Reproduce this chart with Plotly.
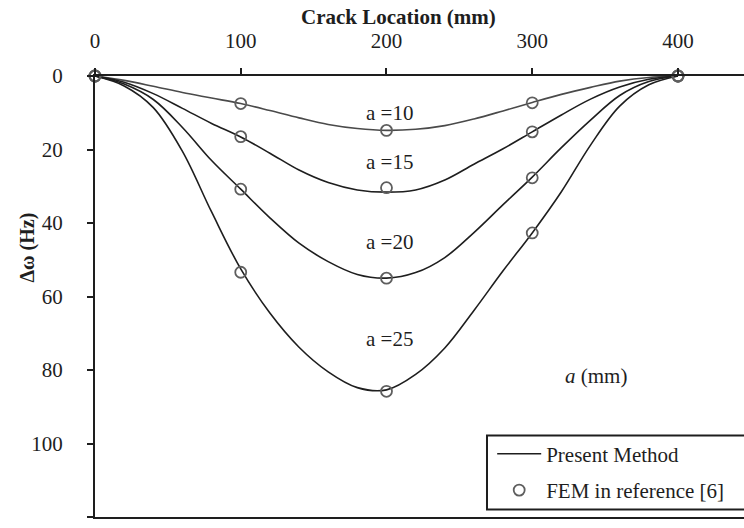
import plotly.graph_objects as go

# Crack location along the beam (mm) for the Present Method curves
crack_x = [0, 20, 40, 60, 80, 100, 120, 140, 160, 180, 200,
           220, 240, 260, 280, 300, 320, 340, 360, 380, 400]

# Frequency change (Hz) for each crack depth a (mm)
present_a10 = [0, 1.2, 2.8, 4.5, 6.0, 7.5, 9.4, 11.4, 13.2, 14.3, 14.8,
               14.5, 13.5, 11.7, 9.5, 7.2, 5.0, 3.1, 1.4, 0.4, 0]
present_a15 = [0, 1.7, 4.8, 8.8, 12.9, 16.6, 21.0, 25.6, 29.0, 31.0, 31.6,
               31.0, 28.3, 24.0, 19.8, 15.2, 10.6, 6.3, 3.0, 0.9, 0]
present_a20 = [0, 2.2, 6.4, 14.0, 23.0, 30.8, 38.6, 45.5, 50.5, 54.0, 55.0,
               53.5, 49.4, 42.6, 35.0, 27.5, 19.5, 12.0, 5.3, 1.5, 0]
present_a25 = [0, 2.7, 8.6, 20.5, 37.0, 52.5, 64.5, 73.8, 80.5, 84.8, 85.4,
               81.2, 74.0, 63.8, 53.0, 42.7, 31.5, 18.8, 8.2, 2.4, 0]

# FEM results from reference [6]
fem_x = [0, 100, 200, 300, 400]
fem_a10 = [0, 7.5, 14.8, 7.3, 0]
fem_a15 = [0, 16.5, 30.4, 15.2, 0]
fem_a20 = [0, 30.8, 55.0, 27.7, 0]
fem_a25 = [0, 53.4, 85.8, 42.7, 0]

depth_labels = ["a =10", "a =15", "a =20", "a =25"]
label_x = [202, 202, 202, 202]
label_y = [10.2, 23.3, 45.2, 71.5]

x_ticks = [0, 100, 200, 300, 400]
y_ticks = [0, 20, 40, 60, 80, 100, 120]

SERIF = "Liberation Serif"
INK = "#1e1e1e"

fig = go.Figure()

curves = [present_a10, present_a15, present_a20, present_a25]
curve_colors = ["#4a4a4a", INK, INK, INK]
for i, (ys, col) in enumerate(zip(curves, curve_colors)):
    fig.add_trace(go.Scatter(
        x=crack_x, y=ys, mode="lines",
        line=dict(color=col, width=1.6, shape="spline", smoothing=1.0),
        name="Present Method", legendgroup="present",
        showlegend=(i == 1), cliponaxis=False,
    ))

fems = [fem_a10, fem_a15, fem_a20, fem_a25]
for i, ys in enumerate(fems):
    fig.add_trace(go.Scatter(
        x=fem_x, y=ys, mode="markers",
        marker=dict(symbol="circle-open", size=11, color="#5e5e5e",
                    line=dict(width=1.8, color="#5e5e5e")),
        name="FEM in reference [6]", legendgroup="fem",
        showlegend=(i == 0), cliponaxis=False,
    ))

for txt, lx, ly in zip(depth_labels, label_x, label_y):
    fig.add_annotation(x=lx, y=ly, text=txt, showarrow=False,
                       font=dict(family=SERIF, size=21, color=INK))

fig.add_annotation(x=343.5, y=81.6, text="<i>a</i> (mm)", showarrow=False,
                   font=dict(family=SERIF, size=21, color=INK))

# Axis titles
fig.add_annotation(x=0.467, y=1, xref="paper", yref="paper", yshift=59,
                   xanchor="center", yanchor="middle",
                   text="<b>Crack Location (mm)</b>", showarrow=False,
                   font=dict(family=SERIF, size=21, color=INK))
fig.add_annotation(x=0, y=0.611, xref="paper", yref="paper", xshift=-67,
                   xanchor="center", yanchor="middle",
                   text="<b>Δω (Hz)</b>", textangle=-90, showarrow=False,
                   font=dict(family=SERIF, size=20, color=INK))

# Legend frame
fig.add_shape(type="rect", xref="paper", yref="paper",
              x0=0.604, x1=1.02, y0=0.017, y1=0.185,
              line=dict(color=INK, width=2), fillcolor="white", layer="below")

fig.update_layout(
    width=744, height=528,
    margin=dict(l=95, r=0, t=76, b=11),
    paper_bgcolor="white", plot_bgcolor="white",
    font=dict(family=SERIF, size=21, color=INK),
    showlegend=True,
    legend=dict(
        x=0.612, y=0.189, xanchor="left", yanchor="top",
        bgcolor="rgba(0,0,0,0)", borderwidth=0,
        font=dict(family=SERIF, size=21, color=INK),
        traceorder="grouped", tracegroupgap=6, itemwidth=44,
    ),
    xaxis=dict(
        side="top", range=[0, 445.3], tickvals=x_ticks,
        showgrid=False, zeroline=False,
        showline=True, linecolor=INK, linewidth=2, mirror=True,
        ticks="outside", ticklen=6, tickwidth=1.5, tickcolor=INK,
        ticklabelstandoff=12,
        tickfont=dict(family=SERIF, size=21, color=INK),
    ),
    yaxis=dict(
        range=[120, 0], tickvals=y_ticks,
        showgrid=False, zeroline=False,
        showline=True, linecolor=INK, linewidth=2,
        ticks="outside", ticklen=6, tickwidth=1.5, tickcolor=INK,
        ticklabelstandoff=20,
        tickfont=dict(family=SERIF, size=21, color=INK),
    ),
)

fig.write_html("out.html")
